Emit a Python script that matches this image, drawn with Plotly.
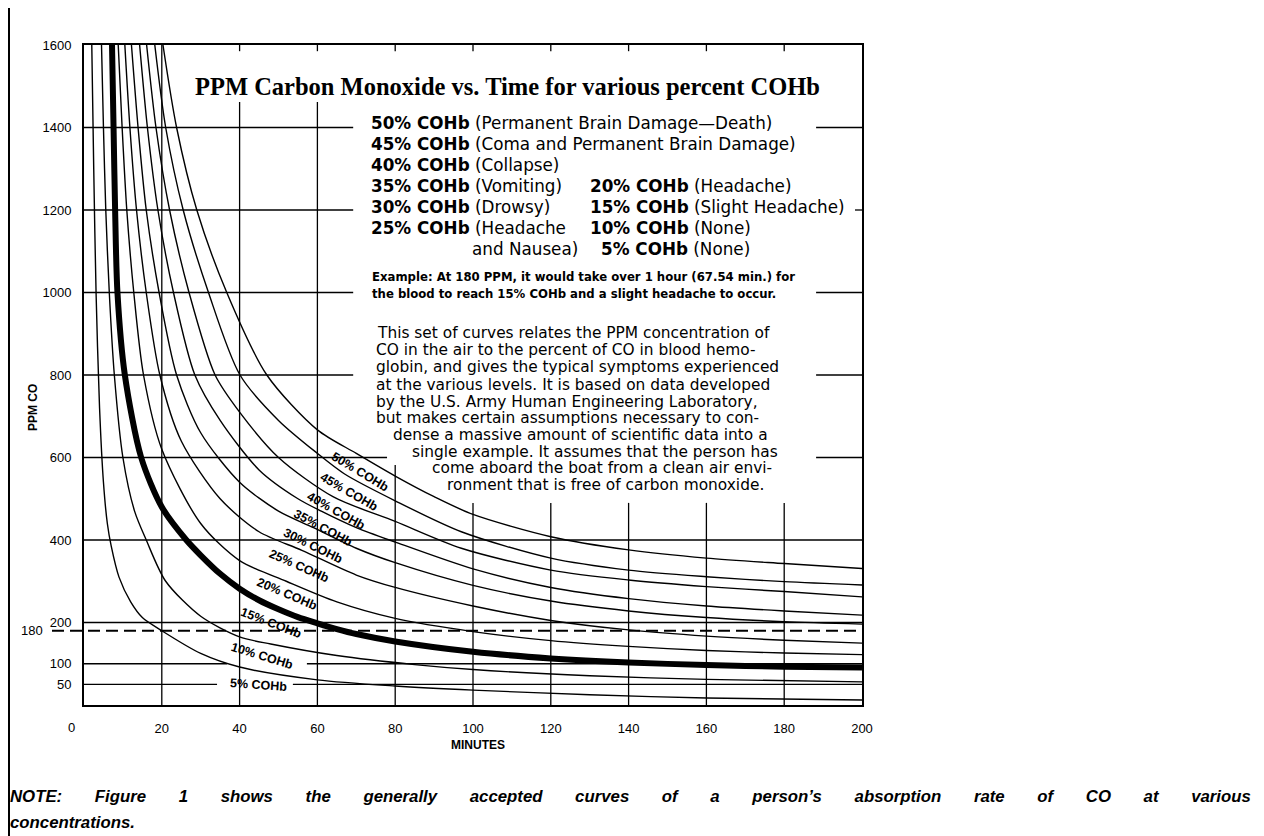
import plotly.graph_objects as go

# ---------------- data ----------------
minute_ticks = [20, 40, 60, 80, 100, 120, 140, 160, 180, 200]
ppm_ticks = [50, 100, 200, 400, 600, 800, 1000, 1200, 1400, 1600]
example_ppm = 180

t_05 = [2.0, 2.5, 3.1, 4.0, 5.0, 6.0, 7.0, 9, 12, 15, 20, 30, 40, 60, 80, 100, 130, 160, 200]
p_05 = [1600, 1300, 1000, 720, 540, 440, 385, 310, 250, 212, 180, 125, 92, 61, 46, 36, 25, 17, 12]

t_10 = [4.5, 5.0, 5.6, 6.5, 7.8, 10, 13, 16, 21, 30, 40, 48, 65, 85, 100, 130, 160, 200]
p_10 = [1600, 1400, 1200, 1000, 800, 600, 470, 400, 300, 215, 165, 148, 120, 98, 86, 71, 62, 56]

t_15 = [7.2, 7.6, 8.0, 8.6, 10.5, 14.7, 20, 26.3, 30, 35, 40, 45, 50, 55, 60, 65, 70, 80, 100, 120, 140, 160, 180, 200]
p_15 = [1600, 1400, 1200, 1000, 800, 600, 480, 400, 363, 318, 282, 254, 232, 213, 198, 184, 172, 154, 129, 113, 103, 97, 93, 91]

t_20 = [8.8, 9.8, 11, 12.8, 15.3, 20, 30, 40, 52, 65, 80, 100, 120, 140, 160, 180, 200]
p_20 = [1600, 1400, 1200, 1000, 800, 620, 440, 350, 300, 250, 210, 178, 156, 142, 132, 126, 122]

t_25 = [10.5, 11.8, 13.5, 16, 19.5, 25, 35, 45, 56, 70, 80, 100, 120, 140, 160, 180, 200]
p_25 = [1600, 1400, 1200, 1000, 800, 640, 500, 420, 375, 315, 285, 240, 205, 182, 167, 157, 150]

t_30 = [12.2, 13.9, 16, 19.3, 23.8, 30, 40, 50, 59, 70, 80, 100, 120, 140, 160, 180, 200]
p_30 = [1600, 1400, 1200, 1000, 800, 660, 540, 470, 430, 380, 345, 290, 252, 228, 212, 202, 196]

t_35 = [14.3, 16.3, 19, 23, 28.5, 35, 45, 55, 61, 70, 80, 100, 120, 140, 160, 180, 200]
p_35 = [1600, 1400, 1200, 1000, 800, 690, 570, 500, 470, 430, 395, 330, 285, 258, 240, 228, 218]

t_40 = [16.1, 18.5, 22, 27, 33.7, 40, 50, 64, 80, 97, 120, 140, 160, 180, 200]
p_40 = [1600, 1400, 1200, 1000, 800, 710, 600, 505, 445, 380, 327, 303, 287, 275, 262]

t_45 = [18.2, 21, 25.5, 32, 40.1, 50, 60, 67, 80, 97, 120, 140, 160, 180, 200]
p_45 = [1600, 1400, 1200, 1000, 800, 690, 610, 560, 495, 420, 356, 327, 311, 299, 291]

t_50 = [20.3, 23.8, 29, 36.7, 47, 60, 70, 80, 90, 100, 120, 140, 160, 180, 200]
p_50 = [1600, 1400, 1200, 1000, 800, 667, 610, 555, 505, 462, 408, 376, 356, 343, 331]

cohb_levels = ["5%", "10%", "15%", "20%", "25%", "30%", "35%", "40%", "45%", "50%"]
curves_t = [t_05, t_10, t_15, t_20, t_25, t_30, t_35, t_40, t_45, t_50]
curves_p = [p_05, p_10, p_15, p_20, p_25, p_30, p_35, p_40, p_45, p_50]

legend_left = [
    ("50% COHb", "(Permanent Brain Damage\u2014Death)"),
    ("45% COHb", "(Coma and Permanent Brain Damage)"),
    ("40% COHb", "(Collapse)"),
    ("35% COHb", "(Vomiting)"),
    ("30% COHb", "(Drowsy)"),
    ("25% COHb", "(Headache"),
]
legend_right = [
    ("20% COHb", "(Headache)"),
    ("15% COHb", "(Slight Headache)"),
    ("10% COHb", "(None)"),
    ("5% COHb", "(None)"),
]
example_lines = [
    "Example: At 180 PPM, it would take over 1 hour (67.54 min.) for",
    "the blood to reach 15% COHb and a slight headache to occur.",
]
paragraph_lines = [
    "This set of curves relates the PPM concentration of",
    "CO in the air to the percent of CO in blood hemo-",
    "globin, and gives the typical symptoms experienced",
    "at the various levels. It is based on data developed",
    "by the U.S. Army Human Engineering Laboratory,",
    "but makes certain assumptions necessary to con-",
    "dense a massive amount of scientific data into a",
    "single example. It assumes that the person has",
    "come aboard the boat from a clean air envi-",
    "ronment that is free of carbon monoxide.",
]
title_text = "PPM Carbon Monoxide vs. Time for various percent COHb"
note_line1 = "NOTE: Figure 1 shows the generally accepted curves of a person\u2019s absorption rate of CO at various"
note_line2 = "concentrations."

# ---------------- layout helpers (page pixel -> paper) ----------------
OFF = 8                     # the page body margin
FW, FH = 1264 - OFF, 836 - OFF
L, T, W, H = 84 - OFF, 45 - OFF, 778, 660
def px(x):
    return (x - OFF - L) / W
def py(y):
    return (T + H - (y - OFF)) / H

fig = go.Figure()

for lev, tt, pp in zip(cohb_levels, curves_t, curves_p):
    thick = lev == "15%"
    fig.add_trace(go.Scatter(
        x=tt, y=pp, mode="lines", name=lev + " COHb",
        line=dict(color="black", width=6 if thick else 1.4, shape="spline", smoothing=0.8),
        hoverinfo="x+y+name", showlegend=False))

shapes = []
def hseg(v, a, b, w=1.3):
    shapes.append(dict(type="line", xref="x", yref="y", x0=a, x1=b, y0=v, y1=v,
                       line=dict(color="black", width=w), layer="below"))
def vseg(v, a, b, w=1.3):
    shapes.append(dict(type="line", xref="x", yref="y", x0=v, x1=v, y0=a, y1=b,
                       line=dict(color="black", width=w), layer="below"))

# horizontal grid segments (interrupted by the text panel / labels)
for v in [1400, 1200, 1000, 800]:
    hseg(v, 0, 69.2)
for v in [1400, 1000, 800, 600]:
    hseg(v, 188.2, 200)
hseg(1200, 198.2, 200)
hseg(600, 0, 77.9)
hseg(400, 0, 200)
hseg(200, 0, 200)
hseg(100, 0, 36.8)
hseg(100, 57.3, 200)
hseg(50, 0, 34.2)
hseg(50, 53.7, 200)

# vertical grid segments
vseg(20, 0, 1600)
for v in [40, 60]:
    vseg(v, 0, 1462)
vseg(80, 0, 582)
for v in [100, 120, 140, 160, 180]:
    vseg(v, 0, 490)
for v in [40, 60, 80, 100, 120, 140, 160, 180]:
    vseg(v, 1585, 1600)

# 180 ppm dashed example line (extends left of the axis)
ydash = py(705 - example_ppm * 0.4125)
shapes.append(dict(type="line", xref="paper", yref="paper", x0=px(52), x1=1,
                   y0=ydash, y1=ydash,
                   line=dict(color="black", width=2.2, dash="12px,6px"), layer="above"))
# page border on the left
shapes.append(dict(type="line", xref="paper", yref="paper", x0=px(9), x1=px(9),
                   y0=py(OFF), y1=py(836), line=dict(color="black", width=2)))

ann = []
def text(x, y, s, size, anchor="left", family="DejaVu Sans", color="black", angle=0, yanchor="middle"):
    ann.append(dict(xref="paper", yref="paper", x=px(x), y=py(y), text=s, showarrow=False,
                    xanchor=anchor, yanchor=yanchor, textangle=angle,
                    font=dict(size=size, family=family, color=color)))

# title
text(508, 87, "<b>" + title_text + "</b>", 24.5, anchor="center", family="Liberation Serif")

# legend block
ly = [123, 144, 165, 186, 207, 228]
for (a, b), y in zip(legend_left, ly):
    text(369, y, "<b>" + a + "</b> " + b, 16.8)
text(470, 249, "and Nausea)", 16.8)
for (a, b), y in zip(legend_right, ly[3:] + [249]):
    text(588 if a != "5% COHb" else 599, y, "<b>" + a + "</b> " + b, 16.8)

# example
text(370, 277, "<b>" + example_lines[0] + "</b>", 11.7)
text(370, 294, "<b>" + example_lines[1] + "</b>", 11.7)

# paragraph
para_x = [375, 374, 374, 374, 374, 374, 391, 410, 430, 445]
para_y = [333, 350, 367, 385, 402, 418, 435, 452, 468, 485]
for s, x, y in zip(paragraph_lines, para_x, para_y):
    text(x, y, s, 15.4)

# curve labels
lab_pos = [(258, 685, 4), (262, 656, 17), (271, 623, 21), (287, 594, 23), (299, 566, 24),
           (313, 546, 26), (323, 528, 28), (336, 511, 29), (349, 492, 30), (360, 472, 31)]
for lev, (x, y, a) in zip(cohb_levels, lab_pos):
    text(x, y, "<b>" + lev + " COHb</b>", 12.5, anchor="center", family="Liberation Sans", angle=a)

# tick labels not handled by the axes
text(71, 727, "0", 13, anchor="center", family="Liberation Sans")
text(45, 630, str(example_ppm), 13, anchor="right", family="Liberation Sans")
text(478, 745, "<b>MINUTES</b>", 12, anchor="center", family="Liberation Sans")
text(33, 408, "<b>PPM CO</b>", 12, anchor="center", family="Liberation Sans", angle=-90)

# note (justified look: widened word gaps)
sp = "\u00a0" * 6 + " "
text(8, 796, "<b><i>" + sp.join(note_line1.split(" ")) + "</i></b>", 16.8,
     family="Liberation Sans", anchor="left")
text(8, 822, "<b><i>" + note_line2 + "</i></b>", 16.8,
     family="Liberation Sans", anchor="left")

fig.update_layout(
    width=FW, height=FH,
    margin=dict(l=L, r=FW - L - W, t=T, b=FH - T - H),
    paper_bgcolor="white", plot_bgcolor="white",
    showlegend=False, shapes=shapes, annotations=ann,
    font=dict(family="Liberation Sans", color="black"),
    xaxis=dict(range=[0, 200], tickvals=minute_ticks, ticktext=[str(v) for v in minute_ticks],
               showgrid=False, zeroline=False, showline=True, mirror=True,
               linecolor="black", linewidth=2, ticks="outside", ticklen=10,
               tickcolor="rgba(0,0,0,0)", tickfont=dict(size=13, color="black")),
    yaxis=dict(range=[0, 1600], tickvals=ppm_ticks, ticktext=[str(v) for v in ppm_ticks],
               showgrid=False, zeroline=False, showline=True, mirror=True,
               linecolor="black", linewidth=2, ticks="outside", ticklen=8,
               tickcolor="rgba(0,0,0,0)", tickfont=dict(size=13, color="black")),
)

fig.write_html("out.html")
